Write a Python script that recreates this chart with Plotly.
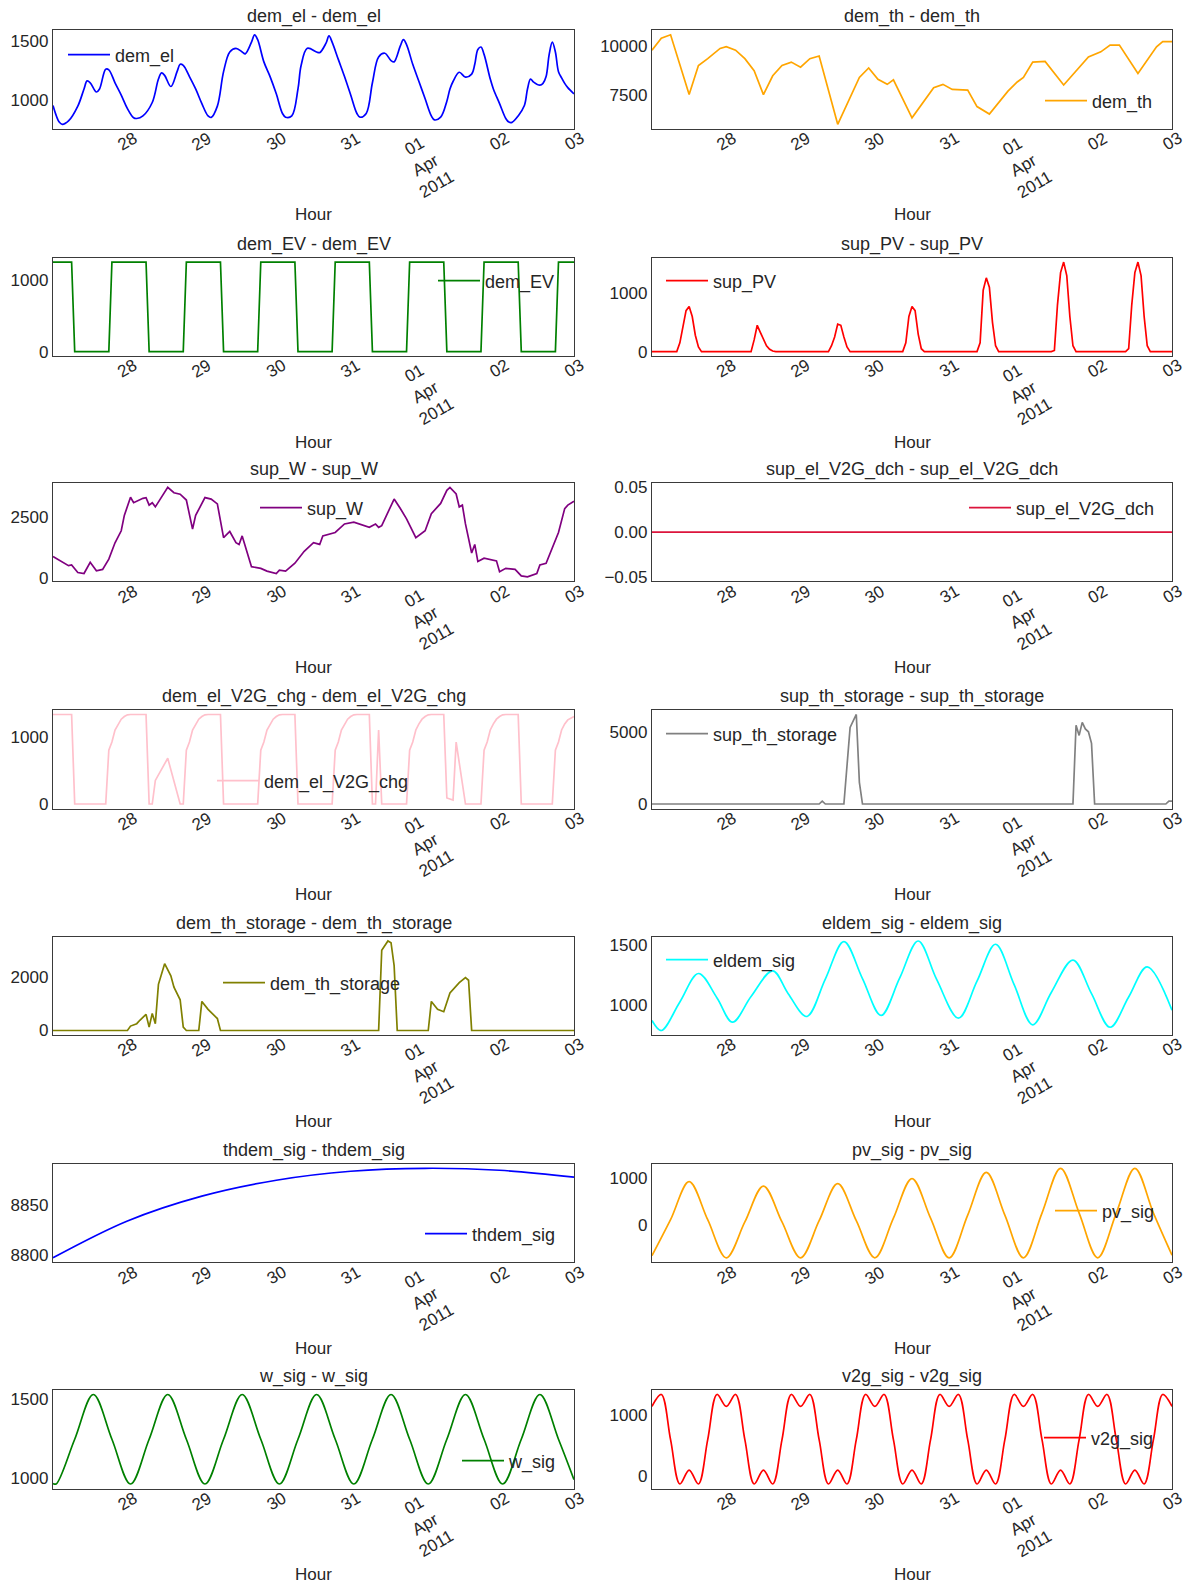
import pandas as pd
import plotly.graph_objects as go

START = pd.Timestamp("2011-03-27 00:00")
END = pd.Timestamp("2011-04-03 00:00")

# ---------------- data (hour offset from START, value) ----------------
dem_el_h = [0, 2, 3, 5, 8, 10, 11, 12, 14, 15, 17, 18, 20, 22, 24, 26, 27, 29, 32, 34, 35, 36, 38, 40, 41, 42, 44, 46, 48, 50, 51,
            53, 55, 57, 59, 61, 62, 64, 65, 66, 68, 70, 72, 74, 75, 77, 79, 80, 82, 85, 86, 88, 89, 90, 92, 94, 96, 98, 99,
            101, 103, 105, 107, 109, 110, 112, 113, 114, 116, 118, 120, 122, 123, 125, 127, 128, 129, 131, 133, 135, 136, 137,
            138, 139, 141, 142, 144, 146, 147, 148, 150, 152, 153, 154, 155, 157, 158, 159, 160, 161, 162, 163, 164, 165, 166, 168]
dem_el_v = [951, 809, 790, 819, 946, 1093, 1162, 1146, 1067, 1093, 1262, 1257, 1146, 1041, 925, 846, 840, 862, 977, 1178, 1230, 1209, 1114, 1241, 1304, 1294, 1199, 1093, 967, 862, 849,
            946, 1241, 1410, 1441, 1410, 1394, 1494, 1557, 1515, 1325, 1199, 1051, 883, 851, 862, 1093, 1294, 1441, 1410, 1404, 1483, 1547, 1494, 1346, 1199, 1041, 883, 851,
            883, 1146, 1367, 1399, 1336, 1325, 1462, 1515, 1473, 1304, 1157, 1009, 862, 828, 851, 988, 1093, 1157, 1236, 1194, 1220, 1304, 1431,
            1452, 1389, 1178, 1093, 967, 840, 809, 807, 862, 951, 1093, 1178, 1151, 1125, 1141, 1199, 1389, 1494, 1410, 1241, 1188, 1141, 1104, 1051]

dem_th_h = [0, 3, 6, 12, 15, 18, 22, 24, 27, 30, 33, 36, 39, 42, 45, 48, 51, 54, 60, 67, 70, 73, 76, 78, 84, 91, 94, 97, 102, 105,
            109, 115, 118, 120, 123, 127, 133, 139, 141, 145, 148, 151, 157, 163, 165, 168]
dem_th_v = [9795, 10400, 10573, 7547, 9017, 9363, 9881, 9968, 9795, 9363, 8757, 7547, 8498, 9017, 9190, 8930, 9363, 9501, 6043,
            8412, 8896, 8325, 8066, 8291, 6372, 7893, 8066, 7807, 7772, 6942, 6562, 7720, 8187, 8412, 9190, 9224, 8031, 9103,
            9449, 9709, 10054, 10054, 8619, 9968, 10227, 10227]

dem_EV_h = [0, 6, 7, 18, 19, 30, 31, 42, 43, 54, 55, 66, 67, 78, 79, 90, 91, 102, 103, 114, 115, 126, 127, 138, 139, 150, 151,
            162, 163, 168]
dem_EV_v = [1250, 1250, 0, 0, 1250, 1250, 0, 0, 1250, 1250, 0, 0, 1250, 1250, 0, 0, 1250, 1250, 0, 0, 1250, 1250, 0, 0, 1250,
            1250, 0, 0, 1250, 1250]

sup_PV_h = [0, 8, 9, 10, 11, 12, 13, 14, 15, 16, 32, 33, 34, 35, 36, 37, 38, 39, 40, 57, 58, 59, 60, 61, 62, 63, 64, 81, 82, 83,
            84, 85, 86, 87, 88, 105, 106, 107, 108, 109, 110, 111, 112, 129, 130, 131, 132, 133, 134, 135, 136, 137, 153, 154,
            155, 156, 157, 158, 159, 160, 161, 168]
sup_PV_v = [0, 0, 150, 450, 700, 770, 600, 280, 80, 0, 0, 200, 450, 330, 200, 100, 40, 10, 0, 0, 100, 250, 470, 450, 250, 80, 0,
            0, 150, 600, 770, 700, 300, 50, 0, 0, 150, 1050, 1260, 1100, 500, 100, 0, 0, 20, 800, 1350, 1530, 1300, 600, 100,
            0, 0, 50, 800, 1350, 1530, 1300, 600, 100, 0, 0]

sup_W_h = [0, 3, 5, 6, 8, 10, 12, 14, 16, 18, 20, 22, 23, 25, 26, 29, 30, 31, 32, 33, 37, 39, 41, 43, 45, 46, 49, 51, 53, 55,
           57, 59, 60, 61, 64, 67, 69, 72, 73, 75, 78, 81, 84, 86, 87, 91, 93, 94, 97, 100, 102, 104, 105, 106, 108, 110,
           112, 114, 117, 120, 122, 125, 127, 128, 130, 131, 132, 133, 135, 136, 137, 139, 143, 144, 146, 149, 151, 153, 156,
           157, 159, 161, 163, 165, 166, 168]
sup_W_v = [885, 646, 505, 534, 225, 183, 646, 295, 351, 772, 1446, 1937, 2569, 3313, 3089, 3271, 3299, 2990, 3089, 2920, 3720,
           3500, 3440, 3201, 2008, 2569, 3300, 3240, 3040, 1657, 1909, 1446, 1376, 1727, 463, 393, 281, 183, 323, 281, 604,
           1095, 1446, 1376, 1727, 1867, 2078, 2218, 2288, 2148, 2078, 2218, 2078, 2148, 2710, 3240, 2850, 2429, 1657, 1937,
           2640, 3061, 3600, 3720, 3450, 2920, 2990, 2218, 1025, 1376, 674, 814, 702, 253, 393, 351, 84, 42, 183, 534, 604,
           1236, 1867, 2850, 2990, 3150]

sup_el_V2G_dch_h = [0, 168]
sup_el_V2G_dch_v = [0, 0]

dem_el_V2G_chg_h = [0, 6, 7, 17, 18, 19, 20, 21, 22, 23, 24, 25, 30, 31, 32, 33, 37, 41, 42, 43, 44, 45, 46, 47, 48, 49, 50, 54,
                    55, 66, 67, 68, 69, 70, 71, 72, 73, 74, 78, 79, 90, 91, 92, 93, 94, 95, 96, 97, 98, 102, 103, 104, 105,
                    106, 114, 115, 116, 117, 118, 119, 120, 121, 122, 126, 127, 129, 130, 133, 138, 139, 140, 141, 142, 143,
                    144, 145, 146, 150, 151, 161, 162, 163, 164, 165, 166, 167, 168]
dem_el_V2G_chg_v = [1330, 1330, 0, 0, 800, 920, 1100, 1190, 1260, 1300, 1325, 1330, 1330, 0, 0, 350, 680, 0, 0, 800, 920, 1100,
                    1190, 1260, 1300, 1325, 1330, 1330, 0, 0, 800, 920, 1100, 1190, 1260, 1300, 1325, 1330, 1330, 0, 0, 800,
                    920, 1100, 1190, 1260, 1300, 1325, 1330, 1330, 0, 0, 1100, 0, 0, 800, 920, 1100, 1190, 1260, 1300, 1325,
                    1330, 1330, 90, 60, 920, 0, 0, 800, 920, 1100, 1190, 1260, 1300, 1325, 1330, 1330, 0, 0, 800, 920, 1100,
                    1190, 1250, 1280, 1300]

sup_th_storage_h = [0, 54, 55, 56, 62, 64, 66, 67, 68, 136, 137, 138, 139, 140, 141, 142, 143, 166, 167, 168]
sup_th_storage_v = [0, 0, 200, 0, 0, 5300, 6200, 1500, 0, 0, 5450, 4750, 5650, 5200, 5000, 4200, 0, 0, 200, 200]

dem_th_storage_h = [0, 24, 25, 27, 28, 30, 31, 32, 33, 34, 36, 38, 39, 41, 42, 43, 47, 48, 50, 52, 53, 54, 105, 106, 108, 109,
                    110, 111, 121, 122, 124, 126, 128, 131, 133, 134, 135, 168]
dem_th_storage_v = [0, 0, 165, 254, 380, 600, 127, 634, 254, 1712, 2480, 2029, 1610, 1141, 127, 0, 0, 1078, 786, 570, 444, 0,
                    0, 2980, 3322, 3258, 2409, 0, 0, 1078, 786, 697, 1395, 1775, 1965, 1864, 0, 0]

eldem_sig_h = [0, 3, 9, 15, 21, 26, 32, 39, 44, 50, 56, 62, 68, 74, 80, 86, 92, 99, 105, 111, 117, 123, 129, 136, 142, 148,
               154, 160, 168]
eldem_sig_v = [875, 792, 1028, 1264, 1062, 861, 1074, 1286, 1097, 908, 1218, 1528, 1222, 917, 1225, 1533, 1213, 894, 1200,
               1506, 1172, 839, 1107, 1375, 1097, 819, 1069, 1319, 960]

thdem_sig_h = [0, 24, 48, 72, 96, 120, 144, 168]
thdem_sig_v = [8797, 8834, 8859, 8875, 8884, 8887, 8885, 8878]

pv_sig_h = [0, 6, 12, 18, 24, 30, 36, 42, 48, 54, 60, 66, 72, 78, 84, 90, 96, 102, 108, 114, 120, 126, 132, 138, 144, 150,
            156, 162, 168]
pv_sig_v = [-650, 110, 914, 110, -696, 62, 820, 62, -696, 88, 871, 88, -696, 142, 979, 142, -696, 207, 1109, 207, -696, 250,
            1196, 250, -696, 250, 1196, 250, -640]

w_sig_h = [0, 1, 7, 13, 19, 25, 31, 37, 43, 49, 55, 61, 67, 73, 79, 85, 91, 97, 103, 109, 115, 121, 127, 133, 139, 145, 151,
           157, 163, 168]
w_sig_v = [966, 962, 1244, 1526, 1244, 962, 1244, 1526, 1244, 962, 1244, 1526, 1244, 962, 1244, 1526, 1244, 962, 1244, 1526,
           1244, 962, 1244, 1526, 1244, 962, 1244, 1526, 1244, 990]

v2g_sig_h = [0, 3, 6, 9, 12, 15, 18, 21, 24, 27, 30, 33, 36, 39, 42, 45, 48, 51, 54, 57, 60, 63, 66, 69, 72, 75, 78, 81, 84,
             87, 90, 93, 96, 99, 102, 105, 108, 111, 114, 117, 120, 123, 126, 129, 132, 135, 138, 141, 144, 147, 150, 153,
             156, 159, 162, 165, 168]
v2g_sig_v = [1148, 1344, 600, -131, 98, -131, 600, 1344, 1148, 1344, 600, -131, 98, -131, 600, 1344, 1148, 1344, 600, -131, 98,
             -131, 600, 1344, 1148, 1344, 600, -131, 98, -131, 600, 1344, 1148, 1344, 600, -131, 98, -131, 600, 1344, 1148,
             1344, 600, -131, 98, -131, 600, 1344, 1148, 1344, 600, -131, 98, -131, 600, 1344, 1148]

tick_days = ["2011-03-28", "2011-03-29", "2011-03-30", "2011-03-31", "2011-04-01", "2011-04-02", "2011-04-03"]
tick_text = ["28", "29", "30", "31", "01<br>Apr<br>2011", "02", "03"]

# name, hours, values, colour, smooth, y tick values
panels = [
    ("dem_el", dem_el_h, dem_el_v, "blue", True, [1000, 1500]),
    ("dem_th", dem_th_h, dem_th_v, "orange", False, [7500, 10000]),
    ("dem_EV", dem_EV_h, dem_EV_v, "green", False, [0, 1000]),
    ("sup_PV", sup_PV_h, sup_PV_v, "red", False, [0, 1000]),
    ("sup_W", sup_W_h, sup_W_v, "purple", False, [0, 2500]),
    ("sup_el_V2G_dch", sup_el_V2G_dch_h, sup_el_V2G_dch_v, "crimson", False, [-0.05, 0.0, 0.05]),
    ("dem_el_V2G_chg", dem_el_V2G_chg_h, dem_el_V2G_chg_v, "pink", False, [0, 1000]),
    ("sup_th_storage", sup_th_storage_h, sup_th_storage_v, "gray", False, [0, 5000]),
    ("dem_th_storage", dem_th_storage_h, dem_th_storage_v, "olive", False, [0, 2000]),
    ("eldem_sig", eldem_sig_h, eldem_sig_v, "cyan", True, [1000, 1500]),
    ("thdem_sig", thdem_sig_h, thdem_sig_v, "blue", True, [8800, 8850]),
    ("pv_sig", pv_sig_h, pv_sig_v, "orange", True, [0, 1000]),
    ("w_sig", w_sig_h, w_sig_v, "green", True, [1000, 1500]),
    ("v2g_sig", v2g_sig_h, v2g_sig_v, "red", True, [0, 1000]),
]

# legend anchor (pixel x of line start, pixel y of item centre)
legend_px = [(69, 55), (1046, 101), (439, 281), (667, 281), (261, 508), (970, 508), (218, 781),
             (667, 734), (224, 983), (667, 960), (426, 1234), (1056, 1211), (463, 1461), (1045, 1438)]

# ---------------- layout ----------------
W, H = 1190, 1584
FONT = "Liberation Sans, Arial, sans-serif"
TXT = "#262626"
FS = 17
FS_BIG = 18
col_x = [(53, 574), (652, 1172)]
row_top = [30.3, 257.6, 482.9, 710.0, 936.5, 1163.8, 1390.0]
row_h = 98.5

fig = go.Figure()
layout = dict(width=W, height=H, margin=dict(l=0, r=0, t=0, b=0, autoexpand=False),
              paper_bgcolor="white", plot_bgcolor="white",
              font=dict(family=FONT, size=FS, color=TXT), showlegend=True)
annotations = []

for i, (name, hrs, vals, color, smooth, yt) in enumerate(panels):
    k = i + 1
    sfx = "" if k == 1 else str(k)
    r, c = divmod(i, 2)
    x0, x1 = col_x[c]
    top = row_top[r]
    bot = top + row_h
    xs = START + pd.to_timedelta(hrs, unit="h")
    leg = "legend" if k == 1 else f"legend{k}"
    line = dict(color=color, width=1.7)
    if smooth:
        line.update(shape="spline", smoothing=1.0)
    fig.add_trace(go.Scatter(x=xs, y=vals, mode="lines", name=name, line=line,
                             xaxis="x" + sfx, yaxis="y" + sfx, legend=leg))
    lo, hi = min(vals), max(vals)
    if hi == lo:
        yr = [lo - 0.055, hi + 0.055]
        fmt = ".2f"
    else:
        pad = 0.05 * (hi - lo)
        yr = [lo - pad, hi + pad]
        fmt = "d"
    axstyle = dict(showline=True, mirror=True, linecolor="#3a3a3a", linewidth=1.3, showgrid=False,
                   zeroline=False, ticks="")
    layout["xaxis" + sfx] = dict(domain=[x0 / W, x1 / W], anchor="y" + sfx, type="date",
                                 range=[START, END], showticklabels=False, **axstyle)
    layout["yaxis" + sfx] = dict(domain=[1 - bot / H, 1 - top / H], anchor="x" + sfx, range=yr,
                                 tickvals=yt, tickformat=fmt, tickfont=dict(size=FS, color=TXT), **axstyle)
    lx, ly = legend_px[i]
    layout[leg] = dict(x=(lx - 6) / W, y=1 - ly / H, xanchor="left", yanchor="middle", itemwidth=42,
                       bgcolor="rgba(0,0,0,0)", borderwidth=0, font=dict(size=FS_BIG, color=TXT, family=FONT))
    # title
    annotations.append(dict(text=f"{name} - {name}", x=0.5, xref=f"x{sfx} domain", y=1, yref=f"y{sfx} domain",
                            yanchor="bottom", xanchor="center", yshift=1, showarrow=False,
                            font=dict(size=FS_BIG, color=TXT)))
    # x tick labels
    for d, t in zip(tick_days, tick_text):
        annotations.append(dict(text=t, x=pd.Timestamp(d), xref="x" + sfx, y=0, yref=f"y{sfx} domain",
                                xanchor="center", yanchor="top", yshift=3, textangle=-30, align="center",
                                showarrow=False, font=dict(size=FS, color=TXT)))
    annotations.append(dict(text="Hour", x=0.5, xref=f"x{sfx} domain", y=0, yref=f"y{sfx} domain",
                            xanchor="center", yanchor="middle", yshift=-86, showarrow=False,
                            font=dict(size=FS, color=TXT)))

layout["annotations"] = annotations
fig.update_layout(**layout)
fig.write_html("out.html", config={"displayModeBar": False},
               post_script="document.body.style.margin='0';")
